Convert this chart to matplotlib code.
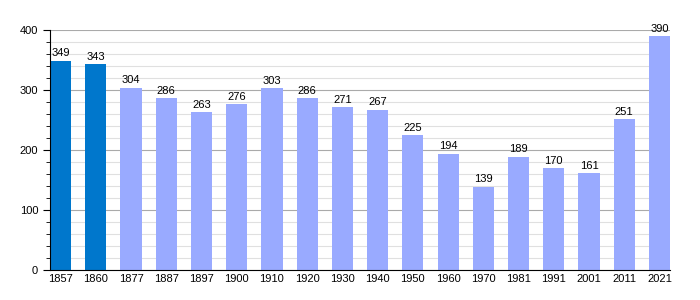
import matplotlib
matplotlib.use('Agg')
import matplotlib.pyplot as plt
from matplotlib.ticker import MultipleLocator

plt.rcParams['font.family'] = ['Liberation Sans', 'DejaVu Sans']

# 人口数据
years = ['1857', '1860', '1877', '1887', '1897', '1900', '1910', '1920', '1930',
         '1940', '1950', '1960', '1970', '1981', '1991', '2001', '2011', '2021']
population = [349, 343, 304, 286, 263, 276, 303, 286, 271,
              267, 225, 194, 139, 189, 170, 161, 251, 390]
dark_years = ['1857', '1860']

fig = plt.figure(figsize=(7, 3), dpi=100)
ax = fig.add_axes([50 / 700, 0.1, 620 / 700, 0.8])

x = list(range(len(years)))
colors = ['#0077cc' if y in dark_years else '#99aaff' for y in years]
ax.bar(x, population, width=0.6, align='edge', color=colors, zorder=3)

for xi, v in zip(x, population):
    ax.text(xi + 0.3, v + 4, str(v), ha='center', va='bottom', fontsize=8, zorder=4)

ax.set_xlim(0, len(years) - 0.4)
ax.set_ylim(0, 400)
ax.set_xticks([xi + 0.3 for xi in x])
ax.set_xticklabels(years)
ax.tick_params(axis='x', length=0, labelsize=8, pad=3)

ax.yaxis.set_major_locator(MultipleLocator(100))
ax.yaxis.set_minor_locator(MultipleLocator(20))
ax.tick_params(axis='y', which='major', length=5, labelsize=8)
ax.tick_params(axis='y', which='minor', length=3)
ax.grid(True, axis='y', which='major', color='#aaaaaa', linewidth=0.8, zorder=0)
ax.grid(True, axis='y', which='minor', color='#e0e0e0', linewidth=0.8, zorder=0)

for side in ['top', 'right']:
    ax.spines[side].set_visible(False)
ax.spines['left'].set_zorder(5)
ax.spines['bottom'].set_zorder(5)

fig.savefig('out.png', dpi=100)
